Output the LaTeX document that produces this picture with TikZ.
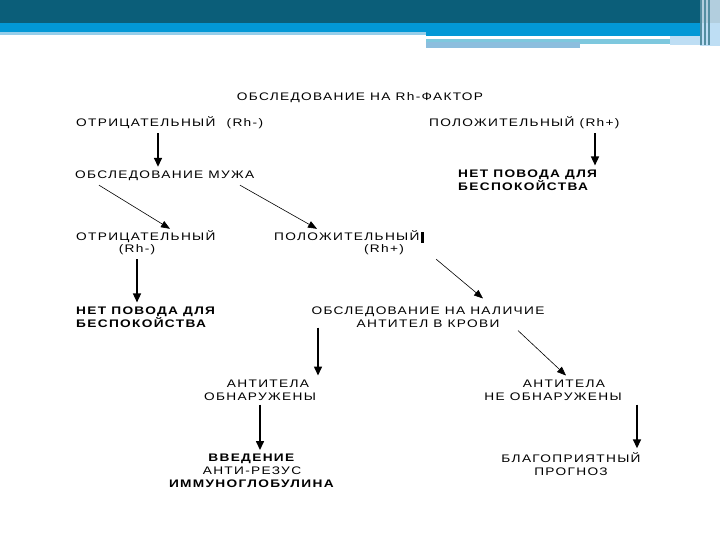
\documentclass[tikz,border=0pt]{standalone}
\usepackage{fontspec}
\setmainfont{Liberation Sans}[FakeStretch=1.25, LetterSpace=12]
\usepackage{tikz}
\usetikzlibrary{positioning,arrows.meta,calc}
\definecolor{ink}{RGB}{0,0,0}
\definecolor{bandteal}{RGB}{11,94,121}
\definecolor{bandblue}{RGB}{2,152,214}
\definecolor{bandlight}{RGB}{150,206,234}
\definecolor{stripcyan}{RGB}{126,200,222}
\definecolor{stripsteel}{RGB}{140,190,222}
\definecolor{edgepale}{RGB}{178,206,222}
\definecolor{edgesky}{RGB}{190,222,244}

\begin{document}
\begin{tikzpicture}[x=1bp, y=-1bp,
  entry/.style={font=\fontsize{11}{13}\selectfont, text=ink, inner xsep=1bp, inner ysep=4bp, text height=8bp, text depth=2bp},
  stack/.style={font=\fontsize{11}{13}\selectfont, text=ink, inner xsep=1bp, inner ysep=4bp, align=center},
  heavy/.style={font=\fontsize{11}{13}\selectfont\bfseries},
  down/.style={-{Triangle[width=8bp,length=9bp]}, line width=1.5bp, draw=ink},
  slant/.style={-{Triangle[width=7bp,length=9bp]}, line width=0.6bp, draw=ink}]
  \useasboundingbox (0,0) rectangle (720,540);
  \fill[white] (0,0) rectangle (720,540);
  \fill[bandteal] (0,0) rectangle (720,23);
  \fill[bandblue] (0,23) rectangle (700,32);
  \fill[bandlight] (0,32) rectangle (426,35);
  \fill[bandblue] (426,32) rectangle (700,36);
  \fill[stripcyan] (426,39) rectangle (670,44);
  \fill[stripsteel] (426,42) rectangle (580,48);
  \fill[edgesky] (670,36) rectangle (700,45);
  \fill[edgepale] (700,0) rectangle (720,23);
  \fill[edgesky] (700,23) rectangle (720,46);
  \draw[bandteal!70, line width=1.2bp] (701,0) -- (701,45) (705,0) -- (705,45) (709,0) -- (709,45);
  \node[entry] (title) at (360,98) {ОБСЛЕДОВАНИЕ НА Rh-ФАКТОР};
  \node[entry, anchor=west] (neg1) at (75,124) {ОТРИЦАТЕЛЬНЫЙ\hspace{6bp} (Rh-)};
  \node[entry, anchor=west] (pos1) at (428,124) {ПОЛОЖИТЕЛЬНЫЙ (Rh+)};
  \node[entry, anchor=west] (husband) at (74,176) {ОБСЛЕДОВАНИЕ МУЖА};
  \node[stack, heavy, anchor=west, align=left] (calm1) at (457,180) {НЕТ ПОВОДА ДЛЯ\\БЕСПОКОЙСТВА};
  \node[entry, anchor=west] (neg2) at (75,238) {ОТРИЦАТЕЛЬНЫЙ};
  \node[entry] (neg2rh) at (137,250) {(Rh-)};
  \node[entry, anchor=west] (pos2) at (273,238) {ПОЛОЖИТЕЛЬНЫЙ\,\rule[-2bp]{2.5bp}{11bp}};
  \node[entry] (pos2rh) at (384,250) {(Rh+)};
  \node[stack, heavy, anchor=west, align=left] (calm2) at (75,317) {НЕТ ПОВОДА ДЛЯ\\БЕСПОКОЙСТВА};
  \node[stack] (antibody) at (428,317) {ОБСЛЕДОВАНИЕ НА НАЛИЧИЕ\\АНТИТЕЛ В КРОВИ};
  \node[stack] (found) at (260,390) {\hspace*{16bp}АНТИТЕЛА\\ОБНАРУЖЕНЫ};
  \node[stack] (notfound) at (553,390) {\hspace*{22bp}АНТИТЕЛА\\НЕ ОБНАРУЖЕНЫ};
  \node[stack] (igg) at (252,471) {\textbf{ВВЕДЕНИЕ}\\АНТИ-РЕЗУС\\\textbf{ИММУНОГЛОБУЛИНА}};
  \node[stack] (good) at (571,464) {БЛАГОПРИЯТНЫЙ\\ПРОГНОЗ};
  \draw[down] ($(neg1.south west)+(83,0)$) -- ($(husband.north west)+(84,0)$);
  \draw[down] ($(pos1.south west)+(167,0)$) -- ($(calm1.north west)+(138,0)$);
  \draw[slant] ($(husband.south west)+(25,0)$) -- ($(neg2.north west)+(95,0)$);
  \draw[slant] ($(husband.south west)+(166,0)$) -- ($(pos2.north west)+(44,0)$);
  \draw[down] (neg2rh.south) -- (neg2rh.south |- calm2.north);
  \draw[slant] ($(pos2rh.south east)+(31,0)$) -- ($(antibody.north)+(55,-4)$);
  \draw[down] ($(antibody.south)+(-110,-4)$) -- ($(found.north)+(58,0)$);
  \draw[slant] ($(antibody.south)+(90,-1)$) -- ($(notfound.north)+(13,0)$);
  \draw[down] (found.south) -- (found.south |- igg.north);
  \draw[down] ($(notfound.south)+(84,0)$) -- ($(good.north)+(66,0)$);
\end{tikzpicture}
\end{document}
